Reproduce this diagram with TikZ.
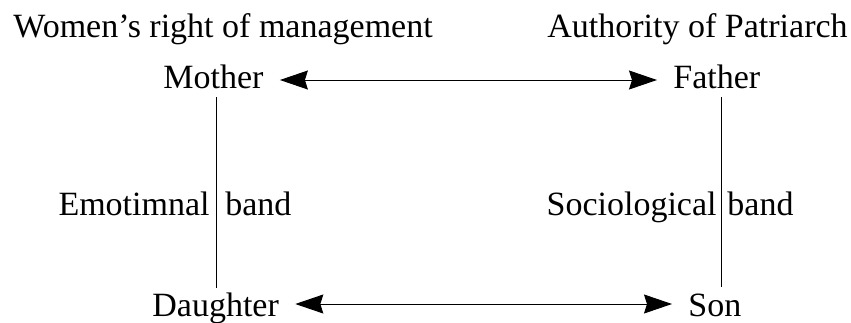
\documentclass[tikz,border=0pt]{standalone}
\usepackage{fontspec}
\setmainfont{Liberation Serif}
\usepackage{tikz}
\usetikzlibrary{positioning,arrows.meta}

\tikzset{
  word/.style={inner sep=0pt, font=\fontsize{17}{20}\selectfont},
  link/.style={color=black, line width=0.5pt, shorten <=8pt, shorten >=8pt,
    {Stealth[length=14pt,width=9.5pt,inset=1.5pt]}-{Stealth[length=14pt,width=9.5pt,inset=1.5pt]}},
  bandline/.style={color=black, line width=0.5pt}
}

\begin{document}
\begin{tikzpicture}[x=0.5pt, y=-0.5pt]
\useasboundingbox (0,0) rectangle (851,322);

\node[word, anchor=base west] (women) at (13,37) {Women’s right of management};
\node[word, anchor=base west] (authority) at (547,37) {Authority of Patriarch};

\node[word, anchor=base west] (mother) at (163,88) {Mother};
\node[word, anchor=base west] (father) at (673,88) {Father};
\node[word, anchor=base west] (daughter) at (152,316) {Daughter};
\node[word, anchor=base west] (son) at (688,316) {Son};

\node[word, anchor=base east] (emotional) at (210,215) {Emotimnal};
\node[word, anchor=base west] (emoband) at (225,215) {band};
\node[word, anchor=base east] (sociological) at (717,215) {Sociological};
\node[word, anchor=base west] (socband) at (727,215) {band};

\coordinate (mtop) at (216,97);
\coordinate (dbot) at (216,288);
\coordinate (ftop) at (721,97);
\coordinate (sbot) at (721,287);

\draw[link] ([yshift=4pt]mother.base east) -- ([yshift=4pt]father.base west);
\draw[link] ([yshift=6pt]daughter.base east) -- ([yshift=6pt]son.base west);

\draw[bandline] (mtop) -- (dbot);
\draw[bandline] (ftop) -- (sbot);

\end{tikzpicture}
\end{document}
